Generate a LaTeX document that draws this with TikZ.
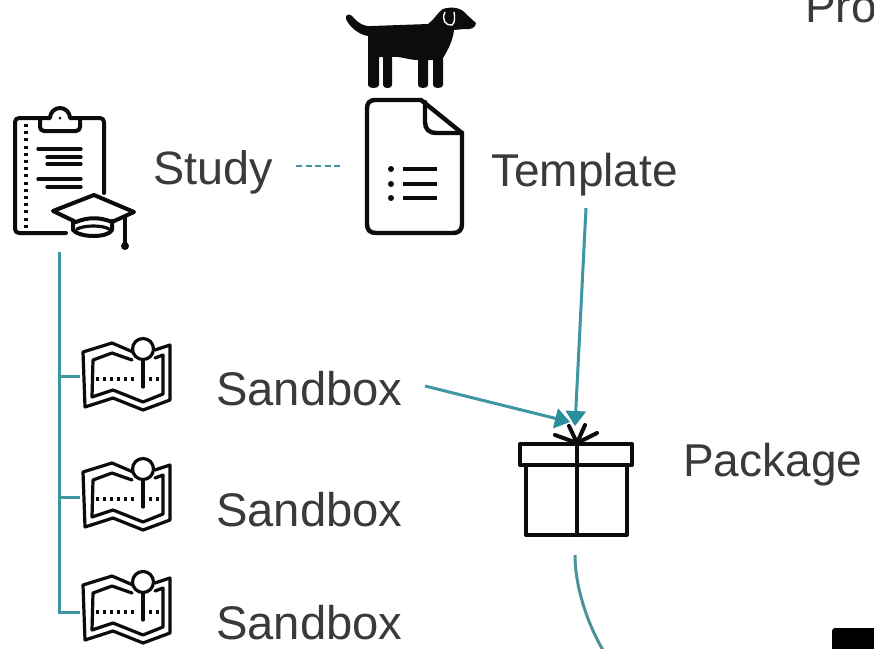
\documentclass[tikz,border=0pt]{standalone}
\usepackage{fontspec}
\setmainfont{Liberation Sans}
\usetikzlibrary{arrows.meta}
\definecolor{tealline}{HTML}{3F96A3}
\definecolor{tealhead}{HTML}{2A8E9C}
\definecolor{labelc}{HTML}{3A3A3A}
\definecolor{iconc}{HTML}{0C0C0C}
\tikzset{
  x=1pt,y=-1pt,
  lbl/.style={anchor=base west,inner sep=0pt,text=labelc,font=\fontsize{46}{50}\selectfont},
  sblbl/.style={lbl,font=\fontsize{47.2}{50}\selectfont},
  icon/.style={draw=iconc,line width=4pt,line join=round,line cap=round},
  iconthin/.style={draw=iconc,line width=3.2pt,line join=round,line cap=round},
  tline/.style={draw=tealline,line width=3pt},
  tarrow/.style={tline,-{Triangle[length=15pt,width=20pt,color=tealhead]}},
  mapicon/.pic={
    \draw[iconthin] (133,352) -- (112,343) -- (83,352) -- (85,407) -- (113,398) -- (143,410) -- (170,400) -- (170,345) -- (155,350);
    \draw[iconthin] (132,360) -- (112,353) -- (93,360) -- (92,397) -- (113,390) -- (143,402) -- (163,394) -- (163,355) -- (155,358);
    \draw[iconthin] (143,349) circle[radius=10.5];
    \draw[iconthin] (143,360) -- (143,387);
    \draw[iconthin,dash pattern=on 3pt off 4pt,line cap=butt] (96,379) -- (137,379);
    \draw[iconthin,dash pattern=on 3pt off 4pt,line cap=butt] (149,379) -- (160,379);
  }
}
\begin{document}
\begin{tikzpicture}
\useasboundingbox (0,0) rectangle (874,648);
\clip (0,0) rectangle (874,648);
\fill[white] (0,0) rectangle (874,648);

% labels
\node[lbl] (pro) at (805,22) {Pro};
\node[lbl,font=\fontsize{46.8}{50}\selectfont] (study) at (153,184) {Study};
\node[lbl] (template) at (491,186) {Template};
\node[sblbl] (sb1) at (216,405) {Sandbox};
\node[sblbl] (sb2) at (216,526) {Sandbox};
\node[sblbl] (sb3) at (216,639) {Sandbox};
\node[lbl] (package) at (683,476) {Package};

% clipboard with cap
\draw[icon] (104,193) -- (104,122) arc[start angle=0,end angle=-90,radius=4] -- (80,118);
\draw[icon] (40,118) -- (19,118) arc[start angle=-90,end angle=-180,radius=4] -- (15,229) arc[start angle=180,end angle=90,radius=4] -- (66,233);
\draw[icon] (40,118) -- (40,127) arc[start angle=180,end angle=90,radius=4] -- (76,131) arc[start angle=90,end angle=0,radius=4] -- (80,118) -- (70,118) arc[start angle=0,end angle=-180,radius=10] -- cycle;
\fill[iconc] (60,118) circle[radius=1.5];
\draw[iconthin,dash pattern=on 3pt off 4.2pt,line cap=butt] (26,124) -- (26,228);
\foreach \a/\b/\c in {38/81/149,47/81/157,47/81/164,38/81/179,47/81/187}
  \draw[iconthin] (\a,\c) -- (\b,\c);
\draw[icon] (53,211) -- (94,195) -- (134,212) -- (112,222) .. controls (100,217) and (88,217) .. (76,222) -- cycle;
\draw[icon] (73,221) -- (73,230) .. controls (80,238) and (108,238) .. (112,230) -- (112,221);
\draw[iconthin] (77,229) .. controls (85,225) and (102,225) .. (109,229);
\draw[iconthin] (125,216) -- (125,243);
\fill[iconc] (125,246) circle[radius=4];

% dog
\fill[iconc] (346,19) .. controls (345,14) and (350,13) .. (353,17)
  .. controls (358,23) and (364,27) .. (372,26) -- (428,24)
  .. controls (434,20) and (438,12) .. (443,9) .. controls (452,6) and (462,8) .. (466,14)
  -- (476,23) .. controls (476,28) and (470,30) .. (464,29) -- (454,30)
  .. controls (453,40) and (448,50) .. (443,58) -- (443,85) .. controls (443,89) and (433,89) .. (433,85)
  -- (433,60) -- (428,60) -- (428,85) .. controls (428,89) and (418,89) .. (418,85)
  -- (418,60) .. controls (408,60) and (400,56) .. (392,57) -- (392,85) .. controls (392,89) and (383,89) .. (383,85)
  -- (383,57) -- (379,57) -- (379,85) .. controls (379,89) and (368,89) .. (368,85)
  -- (368,36) .. controls (360,35) and (350,28) .. (346,19) -- cycle;
\draw[white,line width=1.4pt] (445,12) .. controls (441,20) and (446,26) .. (452,25) .. controls (455,23) and (455,17) .. (454,12);

% document
\draw[icon,line width=4.4pt] (421,100) -- (376,100) .. controls (369,100) and (367,103) .. (367,109)
  -- (367,224) .. controls (367,230) and (370,233) .. (376,233) -- (453,233)
  .. controls (459,233) and (462,230) .. (462,224) -- (462,133) -- cycle;
\draw[icon,line width=4.4pt] (425,102) -- (425,122) .. controls (425,129) and (429,133) .. (436,133) -- (462,133);
\foreach \y in {169,184,198}{
  \fill[iconc] (391,\y) circle[radius=3];
  \draw[icon,line width=4.4pt,line cap=butt] (403,\y) -- (437,\y);
}

% gift
\draw[icon] (520,444) rectangle (632,465);
\draw[icon] (526,465) -- (526,535) -- (627,535) -- (627,465);
\draw[icon] (577,444) -- (577,535);
\draw[icon] (577,443) -- (555,435);
\draw[icon] (577,443) -- (569,426);
\draw[icon] (577,443) -- (585,425);
\draw[icon] (577,443) -- (597,433);

% sandbox icons
\path (0,0) pic {mapicon};
\path (0,120) pic {mapicon};
\path (0,233) pic {mapicon};

% anchors for the connectors
\coordinate (studyend) at (296,166);
\coordinate (docend) at (341,166);
\coordinate (tree) at (59,252);
\coordinate (treeend) at (59,612);
\coordinate (m1) at (80,376);
\coordinate (m2) at (80,497);
\coordinate (m3) at (80,612);
\coordinate (tplout) at (586,208);
\coordinate (giftin1) at (575,426);
\coordinate (sbout) at (425,386);
\coordinate (giftin2) at (570,422);
\coordinate (giftout) at (575,555);
\coordinate (next) at (606,655);

% connectors
\draw[tline,dash pattern=on 6pt off 3.5pt,line width=2pt] (studyend) -- (docend);
\draw[tline] (tree) -- (treeend) -- (m3);
\draw[tline] (59,376) -- (m1);
\draw[tline] (59,497) -- (m2);
\draw[tarrow] (sbout) -- (giftin2);
\draw[tarrow] (tplout) -- (giftin1);
\draw[tline,draw=tealline!80!gray] (giftout) .. controls (575,590) and (590,630) .. (next);

% corner shape
\fill[black,rounded corners=3pt] (832,628) rectangle (885,660);
\end{tikzpicture}
\end{document}
